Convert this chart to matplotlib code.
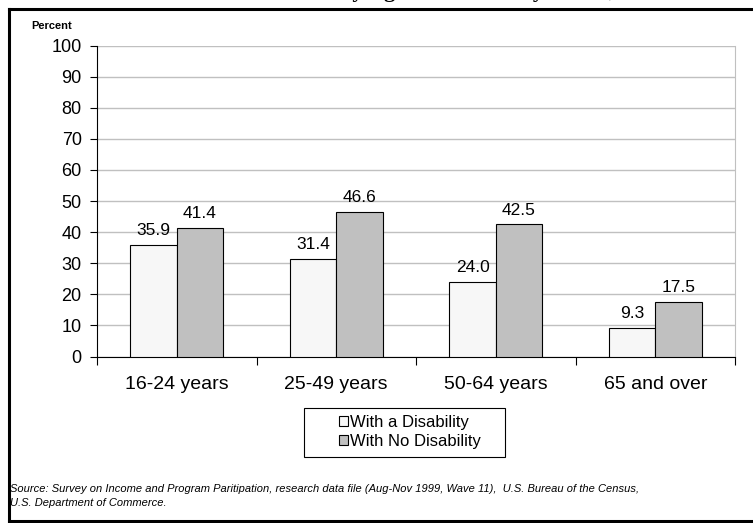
import matplotlib
matplotlib.use("Agg")
import matplotlib.pyplot as plt
import numpy as np
from matplotlib.lines import Line2D
from matplotlib.patches import Rectangle

plt.rcParams['font.family'] = ['Liberation Sans', 'DejaVu Sans']

# data
age_groups = ["16-24 years", "25-49 years", "50-64 years", "65 and over"]
with_disability = [35.9, 31.4, 24.0, 9.3]
no_disability = [41.4, 46.6, 42.5, 17.5]
series_names = ["With a Disability", "With No Disability"]
y_ticks = list(range(0, 101, 10))

W, H = 753, 523
fig = plt.figure(figsize=(W / 100, H / 100), dpi=100)
ax = fig.add_axes([97 / W, 1 - 356.5 / H, (735 - 97) / W, (356.5 - 45.5) / H])

x = np.arange(len(age_groups))
bw = 0.29
b1 = ax.bar(x - bw / 2, with_disability, bw, color='#f7f7f7', edgecolor='black',
            linewidth=0.8, label=series_names[0], zorder=3)
b2 = ax.bar(x + bw / 2, no_disability, bw, color='#c0c0c0', edgecolor='black',
            linewidth=0.8, label=series_names[1], zorder=3)

# value labels above bars
for bars, vals in ((b1, with_disability), (b2, no_disability)):
    for rect, v in zip(bars, vals):
        ax.annotate(f"{v:.1f}", (rect.get_x() + rect.get_width() / 2, v),
                    xytext=(0, 7), textcoords='offset points',
                    ha='center', va='baseline', fontsize=12.5, zorder=4)

ax.set_ylim(0, 100)
ax.set_xlim(-0.5, len(age_groups) - 0.5)
ax.set_yticks(y_ticks)
ax.tick_params(axis='y', labelsize=13, length=5, width=0.8, pad=6)
ax.yaxis.grid(True, color='#c0c0c0', linewidth=1, zorder=0)
ax.set_axisbelow(True)

# category labels in the middle, separator ticks at the boundaries
ax.set_xticks(x)
ax.set_xticklabels(age_groups, fontsize=14)
ax.tick_params(axis='x', which='major', length=0, pad=14)
ax.set_xticks(np.arange(-0.5, len(age_groups), 1), minor=True)
ax.tick_params(axis='x', which='minor', length=6, width=0.8)

ax.spines['top'].set_visible(False)
ax.spines['right'].set_color('#c0c0c0')
ax.spines['left'].set_linewidth(0.8)
ax.spines['bottom'].set_linewidth(0.8)

fig.text(31 / W, 1 - 26 / H, "Percent", fontsize=8, fontweight='bold',
         ha='left', va='center')

# legend without frame, box drawn separately
fig.legend(handles=[b1, b2], labels=series_names, loc='center',
           bbox_to_anchor=(410 / W, 1 - 432 / H), frameon=False, fontsize=12,
           handlelength=0.55, handleheight=0.55, handletextpad=0.15,
           labelspacing=0.25)
fig.add_artist(Rectangle((304 / W, 1 - 457 / H), 201 / W, 49 / H,
                         transform=fig.transFigure, fill=False,
                         edgecolor='black', linewidth=0.8))

fig.text(10 / W, 1 - 489 / H,
         "Source: Survey on Income and Program Paritipation, research data file "
         "(Aug-Nov 1999, Wave 11),  U.S. Bureau of the Census,",
         fontsize=8, style='italic', ha='left', va='center')
fig.text(10 / W, 1 - 503 / H, "U.S. Department of Commerce.",
         fontsize=8, style='italic', ha='left', va='center')

# cut-off title at the very top, only descenders show
fig.text(340 / W, 1 + 3 / H, "by Age and Disability Status, 1999",
         fontsize=16, fontweight='bold', family='Liberation Serif',
         ha='left', va='baseline')

# thick outer frame
fig.add_artist(Line2D([9 / W, 1], [1 - 9 / H, 1 - 9 / H], color='black',
                      linewidth=2.2, transform=fig.transFigure))
fig.add_artist(Line2D([9 / W, 9 / W], [1 - 9 / H, 1 - 521 / H], color='black',
                      linewidth=2.2, transform=fig.transFigure))
fig.add_artist(Line2D([9 / W, 1], [1 - 521 / H, 1 - 521 / H], color='black',
                      linewidth=2.2, transform=fig.transFigure))

fig.savefig("out.png", dpi=100)
